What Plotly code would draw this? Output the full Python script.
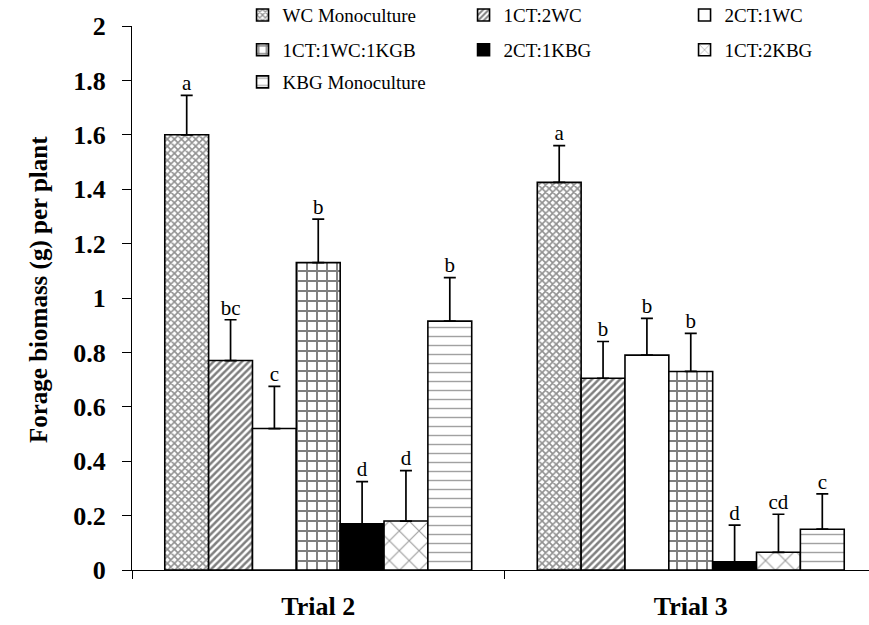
import plotly.graph_objects as go

# Trials on the x axis
trials = ["Trial 2", "Trial 3"]

# Planting treatments (legend order)
treatments = [
    "WC Monoculture", "1CT:2WC", "2CT:1WC",
    "1CT:1WC:1KGB", "2CT:1KBG", "1CT:2KBG",
    "KBG Monoculture",
]

# Mean forage biomass (g per plant) per treatment: [Trial 2, Trial 3]
wc_mono = [1.60, 1.425]
ct1_wc2 = [0.77, 0.705]
ct2_wc1 = [0.52, 0.79]
ct1_wc1_kbg1 = [1.13, 0.73]
ct2_kbg1 = [0.17, 0.03]
ct1_kbg2 = [0.18, 0.065]
kbg_mono = [0.915, 0.15]

# Standard errors (upper whisker only)
wc_mono_se = [0.145, 0.135]
ct1_wc2_se = [0.15, 0.135]
ct2_wc1_se = [0.155, 0.135]
ct1_wc1_kbg1_se = [0.16, 0.14]
ct2_kbg1_se = [0.155, 0.135]
ct1_kbg2_se = [0.185, 0.14]
kbg_mono_se = [0.16, 0.13]

# Mean-separation letters
wc_mono_let = ["a", "a"]
ct1_wc2_let = ["bc", "b"]
ct2_wc1_let = ["c", "b"]
ct1_wc1_kbg1_let = ["b", "b"]
ct2_kbg1_let = ["d", "d"]
ct1_kbg2_let = ["d", "cd"]
kbg_mono_let = ["b", "c"]

means = [wc_mono, ct1_wc2, ct2_wc1, ct1_wc1_kbg1, ct2_kbg1, ct1_kbg2, kbg_mono]
errors = [wc_mono_se, ct1_wc2_se, ct2_wc1_se, ct1_wc1_kbg1_se,
          ct2_kbg1_se, ct1_kbg2_se, kbg_mono_se]
letters = [wc_mono_let, ct1_wc2_let, ct2_wc1_let, ct1_wc1_kbg1_let,
           ct2_kbg1_let, ct1_kbg2_let, kbg_mono_let]

# Fill styling per treatment
fills = [
    dict(color="white", pattern=dict(shape="x", size=5, solidity=0.55, fgcolor="#222222", bgcolor="white")),
    dict(color="white", pattern=dict(shape="/", size=5, solidity=0.5, fgcolor="black", bgcolor="white")),
    dict(color="white", pattern=dict(shape="")),
    dict(color="white", pattern=dict(shape="+", size=10, solidity=0.35, fgcolor="black", bgcolor="white")),
    dict(color="black", pattern=dict(shape="")),
    dict(color="white", pattern=dict(shape="x", size=14, solidity=0.15, fgcolor="#333333", bgcolor="white")),
    dict(color="white", pattern=dict(shape="-", size=9, solidity=0.16, fgcolor="#444444", bgcolor="white")),
]
legend_of = ["legend", "legend", "legend", "legend2", "legend2", "legend2", "legend3"]

SERIF = "Liberation Serif, Times New Roman, serif"
GAP = 0.176

fig = go.Figure()
for name, m, e, f, lg in zip(treatments, means, errors, fills, legend_of):
    fig.add_trace(go.Bar(
        name=name, x=trials, y=m,
        marker=dict(color=f["color"], pattern=f["pattern"],
                    line=dict(color="black", width=1.6)),
        error_y=dict(type="data", array=e, arrayminus=[0] * len(e), symmetric=False,
                     color="black", thickness=1.7, width=6),
        legend=lg,
    ))

# Letters above each whisker
for m, e, lt in zip(means, errors, letters):
    fig.add_trace(go.Scatter(
        x=trials, y=[a + b for a, b in zip(m, e)], text=lt,
        mode="text", textposition="top center",
        textfont=dict(family=SERIF, size=21, color="black"),
        showlegend=False, hoverinfo="skip",
    ))

legend_common = dict(orientation="h", bgcolor="rgba(0,0,0,0)", xanchor="left",
                     yanchor="middle", x=0.15, entrywidth=176, entrywidthmode="pixels",
                     font=dict(family=SERIF, size=19, color="black"),
                     itemclick=False, itemdoubleclick=False)

fig.update_layout(
    width=869, height=625,
    margin=dict(l=132, r=0, t=26, b=55, autoexpand=False),
    paper_bgcolor="white", plot_bgcolor="white",
    barmode="group", bargap=GAP, bargroupgap=0,
    scattermode="group", scattergap=GAP,
    font=dict(family=SERIF, color="black"),
    legend=dict(legend_common, y=1.020),
    legend2=dict(legend_common, y=0.956),
    legend3=dict(legend_common, y=0.897),
    xaxis=dict(
        type="category", range=[-0.5, 1.4785],
        showline=True, linecolor="black", linewidth=1.2,
        ticks="outside", tickson="boundaries", ticklen=8, tickcolor="black",
        tickfont=dict(family=SERIF, size=26, color="black", weight="bold"),
        ticklabelstandoff=13, showgrid=False, zeroline=False,
    ),
    yaxis=dict(
        range=[0, 2], dtick=0.2, tick0=0,
        showline=True, linecolor="black", linewidth=1.2,
        ticks="outside", ticklen=9, tickcolor="black",
        tickfont=dict(family=SERIF, size=26, color="black", weight="bold"),
        ticklabelstandoff=11, showgrid=False, zeroline=False,
    ),
    annotations=[dict(
        text="<b>Forage biomass (g) per plant</b>", textangle=-90,
        xref="paper", yref="paper", x=0, xshift=-109, y=0.5, yshift=8,
        showarrow=False, font=dict(family=SERIF, size=25, color="black"),
    )],
)

fig.write_html("out.html")
